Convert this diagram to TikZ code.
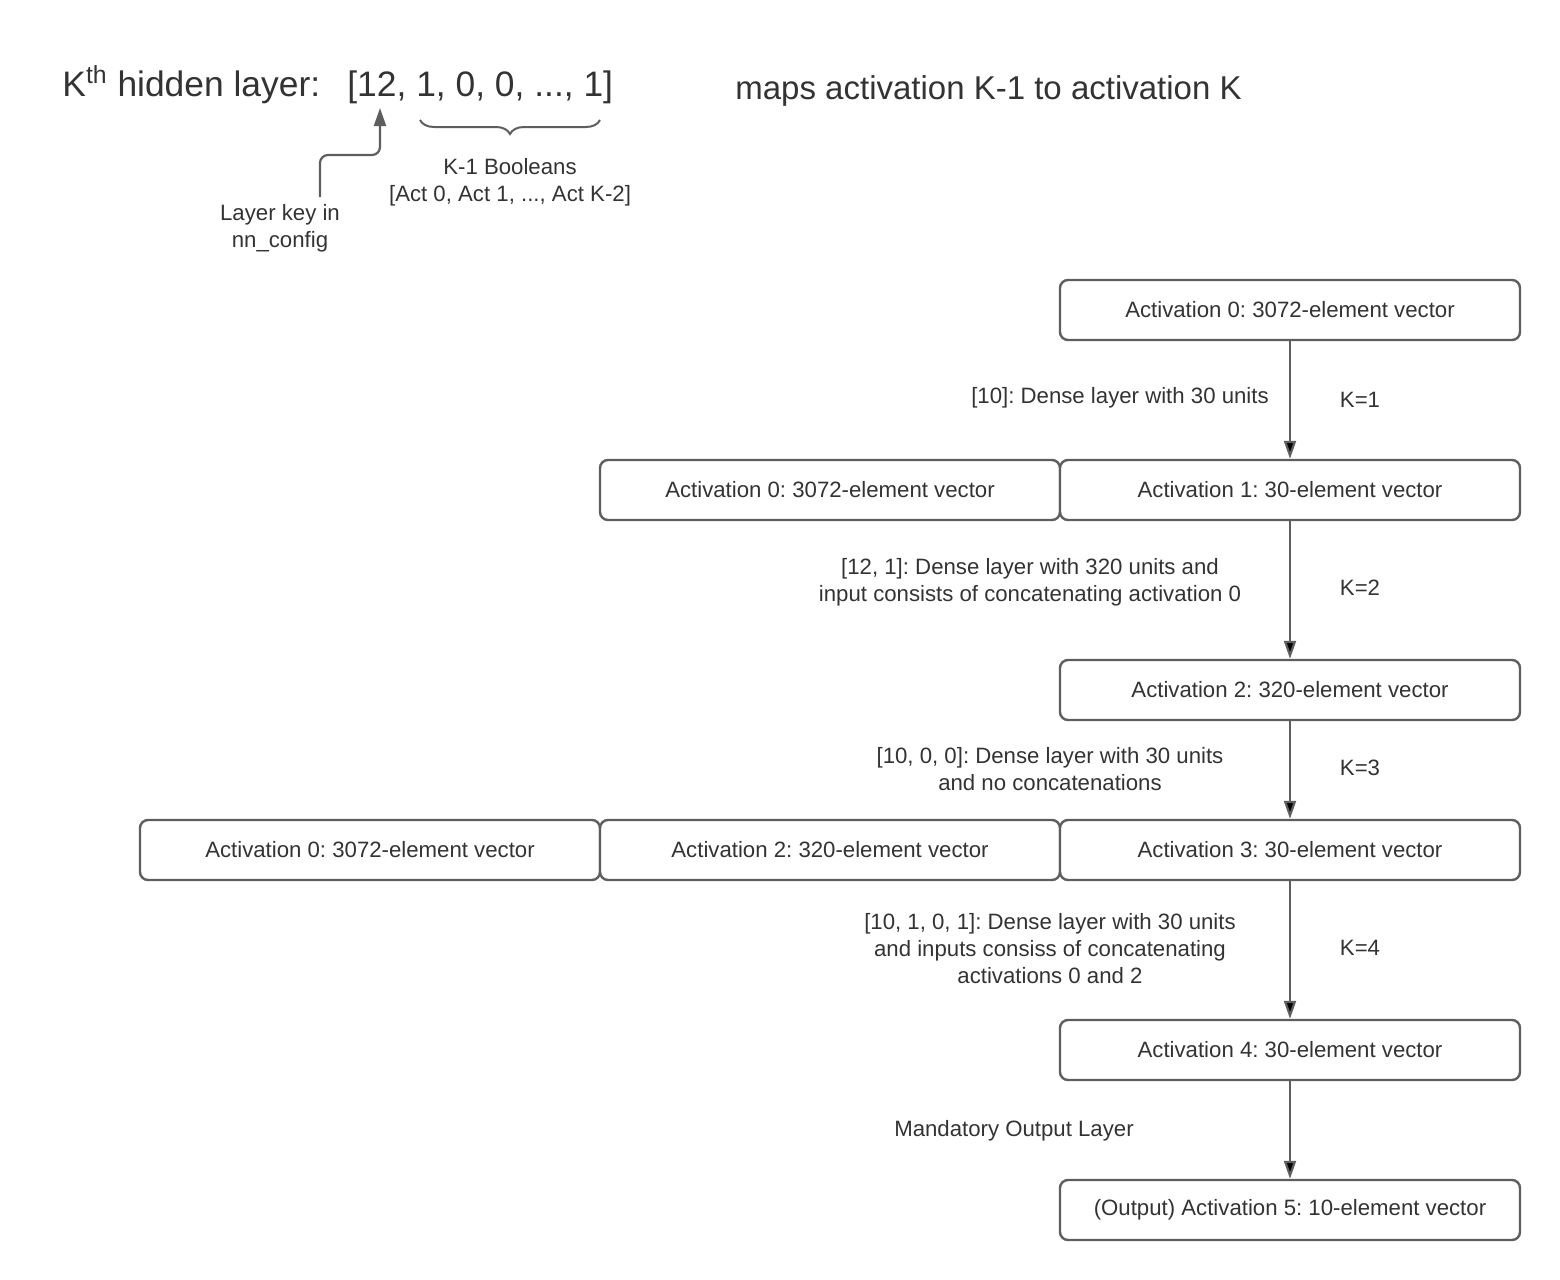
\documentclass[tikz,border=0pt]{standalone}
\usepackage{fontspec}
\setmainfont{Liberation Sans}
\usetikzlibrary{positioning}
\usetikzlibrary{arrows.meta}
\usetikzlibrary{decorations.pathreplacing}
\definecolor{linegray}{HTML}{5E5E5E}
\definecolor{textgray}{HTML}{333333}
\frenchspacing

\begin{document}
\begin{tikzpicture}[x=0.5pt, y=-0.5pt, every node/.style={text=textgray, font=\fontsize{11.1}{13.5}\selectfont},
    box/.style={draw=linegray, line width=1.2pt, rounded corners=4pt, minimum width=230pt, minimum height=30pt, inner sep=0pt, fill=white},
    lbl/.style={align=center, inner sep=0pt},
    arr/.style={-{Triangle[width=6pt, length=9pt]}, draw=linegray, line width=1.1pt}]
            \useasboundingbox (0,0) rectangle (1560,1280);

            % heading
            \node[anchor=base west, inner sep=0pt, font=\fontsize{17.7}{20}\selectfont] (title) at (62,96) {K\textsuperscript{th} hidden layer:};
            \node[anchor=base west, inner sep=0pt, font=\fontsize{17.7}{20}\selectfont] (keyvec) at (347,96) {[12, 1, 0, 0, ..., 1]};
            \node[anchor=base west, inner sep=0pt, font=\fontsize{16.5}{20}\selectfont] (maps) at (735,99) {maps activation K-1 to activation K};
            \node[lbl] (bools) at (510,182) {K-1 Booleans\\{}[Act 0, Act 1, ..., Act K-2]};
            \node[lbl] (keylbl) at (280,228) {Layer key in\\nn\_config};
            \coordinate (keystart) at (320,197);
            \coordinate (keybend) at (350,155);
            \coordinate (keytip) at (380,108);
            \coordinate (bracel) at (420,120);
            \coordinate (bracer) at (600,120);

            \draw[arr, rounded corners=4pt] (keystart) |- (keybend) -| (keytip);
            \draw[linegray, line width=1pt, decorate, decoration={brace, mirror, amplitude=7pt}] (bracel) -- (bracer);

            % layers
            \node[box] (act0) at (1290,310) {Activation 0: 3072-element vector};
            \node[box] (act1in0) at (830,490) {Activation 0: 3072-element vector};
            \node[box] (act1) at (1290,490) {Activation 1: 30-element vector};
            \node[box] (act2) at (1290,690) {Activation 2: 320-element vector};
            \node[box] (act3in0) at (370,850) {Activation 0: 3072-element vector};
            \node[box] (act3in2) at (830,850) {Activation 2: 320-element vector};
            \node[box] (act3) at (1290,850) {Activation 3: 30-element vector};
            \node[box] (act4) at (1290,1050) {Activation 4: 30-element vector};
            \node[box] (act5) at (1290,1210) {(Output) Activation 5: 10-element vector};

            \draw[arr] (act0) edge (act1);
            \draw[arr] (act1) edge (act2);
            \draw[arr] (act2) edge (act3);
            \draw[arr] (act3) edge (act4);
            \draw[arr] (act4) edge (act5);

            % edge labels
            \node[lbl] (desc1) at (1120,398) {[10]: Dense layer with 30 units};
            \node[lbl] (k1) at (1360,400) {K=1};
            \node[lbl] (desc2) at (1030,582) {[12, 1]: Dense layer with 320 units and\\input consists of concatenating activation 0};
            \node[lbl] (k2) at (1360,588) {K=2};
            \node[lbl] (desc3) at (1050,769) {[10, 0, 0]: Dense layer with 30 units\\and no concatenations};
            \node[lbl] (k3) at (1360,768) {K=3};
            \node[lbl] (desc4) at (1050,949) {[10, 1, 0, 1]: Dense layer with 30 units\\and inputs consiss of concatenating\\activations 0 and 2};
            \node[lbl] (k4) at (1360,948) {K=4};
            \node[lbl] (desc5) at (1014,1131) {Mandatory Output Layer};
        \end{tikzpicture}
\end{document}
